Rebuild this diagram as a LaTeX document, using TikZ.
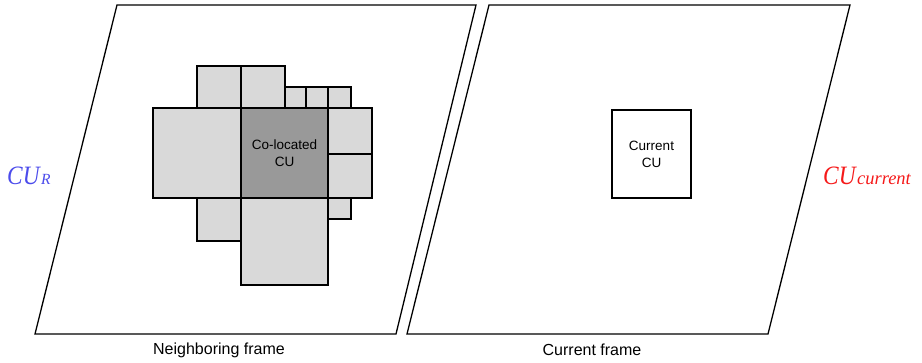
\documentclass[tikz,border=0pt]{standalone}
\usepackage{fontspec}
\usepackage{graphicx}
\setmainfont{Liberation Sans}
\newfontfamily\serifit{Liberation Serif}
\definecolor{lightblk}{RGB}{217,217,217}
\definecolor{darkblk}{RGB}{153,153,153}
\definecolor{cublue}{RGB}{75,75,235}
\definecolor{cured}{RGB}{245,25,25}
\newcommand\blkbox[6]{%
  \node[#6, minimum width={(#4-#2)*1pt}, minimum height={(#5-#3)*1pt}] (#1) at ({(#2+#4)/2},{(#3+#5)/2}) {};}
\begin{document}
\begin{tikzpicture}[x=1pt,y=-1pt,
  frame/.style={draw=black, line width=1.3pt},
  blk/.style={draw=black, line width=2.3pt, fill=lightblk, inner sep=0pt, outer sep=0pt},
  dblk/.style={blk, fill=darkblk},
  lbl/.style={font=\fontsize{16}{18}\selectfont, inner sep=0pt},
  cutxt/.style={font=\fontsize{13.5}{17}\selectfont, align=center, inner sep=0pt}]
\useasboundingbox (0,0) rectangle (922,362);
% frames
\draw[frame] (117,5) -- (476,5) -- (396,334) -- (35,334) -- cycle;
\draw[frame] (489,5) -- (850,5) -- (768,334) -- (407,334) -- cycle;
% neighboring blocks
\blkbox{a}{197}{66}{241}{108}{blk}
\blkbox{b}{241}{66}{285}{108}{blk}
\blkbox{s1}{285}{87}{306}{108}{blk}
\blkbox{s2}{306}{87}{328}{108}{blk}
\blkbox{s3}{328}{87}{351}{108}{blk}
\blkbox{l}{153}{108}{241}{198}{blk}
\blkbox{r1}{328}{108}{372}{154}{blk}
\blkbox{r2}{328}{154}{372}{198}{blk}
\blkbox{bl}{197}{198}{241}{241}{blk}
\blkbox{bb}{241}{198}{328}{285}{blk}
\blkbox{br}{328}{198}{351}{219}{blk}
\blkbox{col}{241}{108}{328}{198}{dblk}
\node[cutxt] (coltxt) at (col.center) {Co-located\\CU};
% current CU
\node[draw=black, line width=2.3pt, fill=white, minimum width=79pt, minimum height=88pt, inner sep=0pt] (cur) at (651.5,154) {};
\node[cutxt, text=black] (curtxt) at (cur.center) {Current\\CU};
% labels
\node[lbl] (nf) at (219,350) {Neighboring frame};
\node[lbl] (cf) at (592,350) {Current frame};
\node[anchor=base west, inner sep=0pt, text=cublue] (cur_r) at (7,184) {\serifit\itshape\scalebox{0.88}[1]{\fontsize{26.5}{26}\selectfont CU}\hspace{1.5pt}\fontsize{15.5}{16}\selectfont R};
\node[anchor=base west, inner sep=0pt, text=cured] (cu_c) at (823,184) {\serifit\itshape\scalebox{0.88}[1]{\fontsize{26.5}{26}\selectfont CU}\hspace{1.5pt}\fontsize{18.5}{18}\selectfont current};
\end{tikzpicture}
\end{document}
